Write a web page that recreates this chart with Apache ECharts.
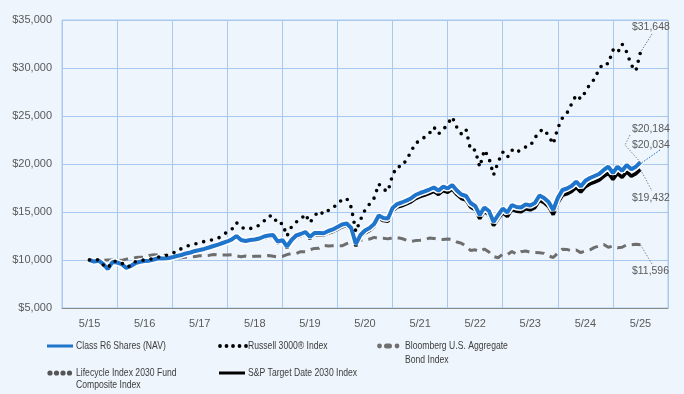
<!DOCTYPE html>
<html><head><meta charset="utf-8">
<script src="https://cdn.jsdelivr.net/npm/echarts@6/dist/echarts.min.js"></script>
<style>html,body{margin:0;padding:0;background:#EEF5FC}#c{width:684px;height:394px}</style>
</head><body><div id="c"></div>
<script>
const yearLabels = ['5/15','5/16','5/17','5/18','5/19','5/20','5/21','5/22','5/23','5/24','5/25'];
const yTicks = [5000,10000,15000,20000,25000,30000,35000];

const classR6 = [10000,9840,9930,9580,9060,9790,9740,9580,9170,9380,9690,9820,
9900,9930,10050,10180,10160,10180,10280,10420,10520,10680,10780,10940,
11040,11150,11300,11460,11610,11770,11930,12140,12500,12080,11980,12080,
12140,12240,12450,12550,12600,11910,12080,11410,12080,12550,12710,12920,
12400,12810,12810,12780,13020,13180,13440,13700,13800,13330,11670,12600,
13070,13330,13750,14640,14380,14320,15420,15830,15990,16180,16410,16770,
16980,17140,17340,17550,17220,17640,17470,17810,17240,16820,16670,15940,
15630,14690,15470,15100,13960,14690,15360,14950,15730,15520,15470,15800,
15680,15940,16720,16460,16040,15210,16460,17290,17450,17710,18160,17660,
18250,18540,18750,18960,19380,19720,19060,19720,19300,19900,19450,19720,
20184];

const russell3000 = [10000,10050,10000,9480,9170,9840,9900,9690,9270,9380,9840,9950,
10000,10050,10160,10310,10360,10520,10730,10830,11200,11400,11560,11670,
11800,11930,12010,12140,12260,12600,12920,13200,13890,13440,13200,13280,
13360,13650,14060,14580,14610,13750,13820,12500,13470,13960,14220,14790,
13890,14580,15100,14760,15160,15360,15940,16250,16430,15490,12950,14170,
15210,15830,16460,17920,17360,17140,18850,19740,19720,20420,21250,22190,
22400,22810,23180,23850,23130,23540,24170,24900,23820,23130,23620,21460,
21460,19690,21460,20630,18850,20210,21250,20680,21460,21150,21560,21770,
21880,22710,23390,23620,22920,22080,23750,24790,25310,26250,27190,26770,
27500,28330,28850,29900,30520,30420,31880,31560,32500,31670,30310,29690,
31648];

const bloombergAgg = [10000,9890,9960,9950,10010,10010,9990,9950,10090,10160,10250,10290,
10290,10480,10540,10530,10520,10440,10190,10210,10230,10300,10290,10370,
10450,10440,10480,10580,10520,10530,10520,10560,10440,10340,10410,10330,
10400,10390,10390,10460,10390,10310,10370,10560,10680,10670,10870,10870,
11070,11210,11230,11520,11460,11490,11490,11480,11700,11910,11840,12050,
12110,12180,12360,12260,12260,12200,12320,12330,12240,12070,11920,12020,
12060,12140,12280,12250,12140,12140,12180,12140,11880,11750,11420,10990,
11060,10880,11140,10830,10360,10230,10610,10560,10890,10600,10870,10930,
10810,10770,10760,10690,10430,10260,10720,11130,11100,10950,11050,10770,
10950,11060,11310,11470,11620,11330,11450,11270,11330,11580,11580,11630,
11596];

const lifecycle2030 = [10000,9840,9930,9580,9060,9790,9740,9580,9170,9370,9680,9810,
9890,9920,10040,10170,10150,10170,10270,10410,10510,10670,10770,10920,
11020,11130,11280,11440,11590,11750,11910,12120,12480,12060,11950,12050,
12110,12210,12420,12520,12570,11880,12050,11380,12050,12520,12670,12880,
12360,12770,12770,12740,12980,13140,13400,13650,13750,13280,11630,12550,
13020,13280,13700,14580,14320,14260,15360,15770,15920,16110,16340,16700,
16900,17060,17260,17470,17140,17560,17390,17720,17150,16740,16590,15860,
15550,14610,15390,15020,13880,14610,15270,14870,15640,15430,15380,15710,
15590,15850,16620,16360,15940,15120,16360,17180,17340,17600,18040,17540,
18130,18420,18620,18830,19240,19580,18920,19580,19160,19750,19310,19570,
20034];

const spTarget2030 = [10000,9840,9920,9570,9050,9780,9720,9560,9150,9350,9660,9790,
9860,9890,10010,10130,10110,10130,10220,10360,10460,10610,10710,10860,
10960,11060,11210,11360,11510,11660,11820,12020,12380,11960,11850,11950,
12000,12100,12300,12400,12440,11760,11920,11260,11920,12380,12530,12730,
12220,12620,12610,12580,12810,12970,13220,13470,13560,13100,11460,12370,
12830,13080,13490,14360,14100,14030,15110,15500,15650,15840,16060,16400,
16600,16760,16950,17150,16820,17220,17050,17380,16820,16400,16250,15530,
15230,14310,15060,14690,13580,14290,14930,14530,15280,15080,15020,15340,
15220,15460,16220,15960,15550,14740,15940,16740,16890,17140,17570,17080,
17640,17920,18110,18310,18710,19030,18390,19020,18610,19180,18740,19000,
19432];

const seriesNames = ['Class R6 Shares (NAV)','Russell 3000® Index','Bloomberg U.S. Aggregate Bond Index','Lifecycle Index 2030 Fund Composite Index','S&P Target Date 2030 Index'];

// x position: month index offset by half a year so each year label sits centred in its band
const toXY = arr => arr.map((v, i) => [i + 6, v]);

const BLUE = '#1f74cc', GRID = '#A8C8EE', TXT = '#595959', LEG = '#3c3c3c';
const FONT = "'Liberation Sans', Arial, sans-serif";

const chart = echarts.init(document.getElementById('c'), null, {renderer: 'canvas'});
const option = {
  backgroundColor: '#EEF5FC',
  animation: false,
  grid: {left: 62, right: 16, top: 20, bottom: 86, show: true, borderColor: GRID, borderWidth: 1},
  xAxis: [
    {type: 'category', data: yearLabels, boundaryGap: true, gridIndex: 0,
     axisLine: {show: true, lineStyle: {color: '#8a8a8a', width: 1}},
     axisTick: {show: false},
     axisLabel: {color: TXT, fontSize: 11, fontFamily: FONT, margin: 10},
     splitLine: {show: true, lineStyle: {color: GRID, width: 1}}},
    {type: 'value', min: 0, max: 132, show: false, gridIndex: 0}
  ],
  yAxis: {type: 'value', min: yTicks[0], max: yTicks[yTicks.length-1], interval: 5000,
    axisLine: {show: false}, axisTick: {show: false},
    axisLabel: {color: TXT, fontSize: 11, fontFamily: FONT, margin: 10,
      formatter: v => '$' + v.toLocaleString('en-US')},
    splitLine: {show: true, lineStyle: {color: GRID, width: 1}}},
  series: [
    {name: seriesNames[2], type: 'line', xAxisIndex: 1, data: toXY(bloombergAgg), symbol: 'none', z: 2,
     lineStyle: {color: '#6e6e6e', width: 3, type: [9, 6]}},
    {name: seriesNames[3], type: 'line', xAxisIndex: 1, data: toXY(lifecycle2030), symbol: 'none', z: 3,
     lineStyle: {color: '#555555', width: 4, type: [0, 6], cap: 'round'}},
    {name: seriesNames[4], type: 'line', xAxisIndex: 1, data: toXY(spTarget2030), symbol: 'none', z: 4,
     lineStyle: {color: '#000000', width: 3.5}},
    {name: 'halo', type: 'line', xAxisIndex: 1, data: toXY(classR6), symbol: 'none', z: 5, silent: true,
     lineStyle: {color: '#ffffff', width: 7}},
    {name: seriesNames[0], type: 'line', xAxisIndex: 1, data: toXY(classR6), symbol: 'none', z: 6,
     lineStyle: {color: BLUE, width: 4}},
    {name: seriesNames[1], type: 'line', xAxisIndex: 1, data: toXY(russell3000), symbol: 'none', z: 7,
     lineStyle: {color: '#000000', width: 3.6, type: [0, 8], cap: 'round'}}
  ]
};
chart.setOption(option);

function px(arr) {
  return chart.convertToPixel({xAxisIndex: 1, yAxisIndex: 0}, [arr.length - 1 + 6, arr[arr.length - 1]]);
}
const fmt = v => '$' + v.toLocaleString('en-US');
const pR = px(russell3000), pC = px(classR6), pL = px(lifecycle2030), pS = px(spTarget2030), pB = px(bloombergAgg);

const g = [];
function txt(x, y, s, color, size, sx) {
  g.push({type: 'text', x: x, y: y, scaleX: sx, silent: true,
    style: {text: s, fill: color, font: size + 'px ' + FONT, verticalAlign: 'middle', align: 'left'}});
}
function dotted(points, color) {
  g.push({type: 'polyline', silent: true, z: 20, shape: {points: points},
    style: {stroke: color, lineWidth: 1, lineDash: [1.5, 1.5], fill: null}});
}
// end-value labels
txt(632, 27, fmt(russell3000[russell3000.length-1]), TXT, 11, 0.95);
txt(632, 129, fmt(classR6[classR6.length-1]), TXT, 11, 0.95);
txt(632, 145, fmt(lifecycle2030[lifecycle2030.length-1]), TXT, 11, 0.95);
txt(632, 198, fmt(spTarget2030[spTarget2030.length-1]), TXT, 11, 0.95);
txt(632, 271, fmt(bloombergAgg[bloombergAgg.length-1]), TXT, 11, 0.95);
dotted([[652, 34], pR], '#777');
dotted([[630, 135], [625, 145], pC], '#888');
dotted([[660, 150], pL], BLUE);
dotted([pS, [652, 191]], '#888');
dotted([pB, [652, 264]], '#888');

// legend
const r1 = 346, r2 = 373, LS = 0.82, LF = 10.5;
g.push({type: 'line', silent: true, shape: {x1: 47, y1: r1, x2: 73, y2: r1}, style: {stroke: BLUE, lineWidth: 3}});
txt(76, r1, seriesNames[0], LEG, LF, LS);
[220, 226.5, 233, 239.5, 246].forEach(x => g.push({type: 'circle', silent: true, shape: {cx: x, cy: r1, r: 1.9}, style: {fill: '#000'}}));
txt(248, r1, seriesNames[1], LEG, LF, LS);
g.push({type: 'circle', silent: true, shape: {cx: 379.5, cy: r1, r: 2.4}, style: {fill: '#707070'}});
g.push({type: 'rect', silent: true, shape: {x: 384, y: r1 - 2.5, width: 8, height: 5, r: 2.5}, style: {fill: '#707070'}});
g.push({type: 'circle', silent: true, shape: {cx: 397, cy: r1, r: 2.4}, style: {fill: '#707070'}});
txt(405, r1, 'Bloomberg U.S. Aggregate', LEG, LF, LS);
txt(405, 360, 'Bond Index', LEG, LF, LS);
[50, 56.5, 63, 69.5].forEach(x => g.push({type: 'circle', silent: true, shape: {cx: x, cy: r2, r: 2.6}, style: {fill: '#555'}}));
txt(76, r2, 'Lifecycle Index 2030 Fund', LEG, LF, LS);
txt(76, 385, 'Composite Index', LEG, LF, LS);
g.push({type: 'line', silent: true, shape: {x1: 219, y1: r2, x2: 245, y2: r2}, style: {stroke: '#000', lineWidth: 3}});
txt(248, r2, seriesNames[4], LEG, LF, LS);

chart.setOption({graphic: g});
</script></body></html>
